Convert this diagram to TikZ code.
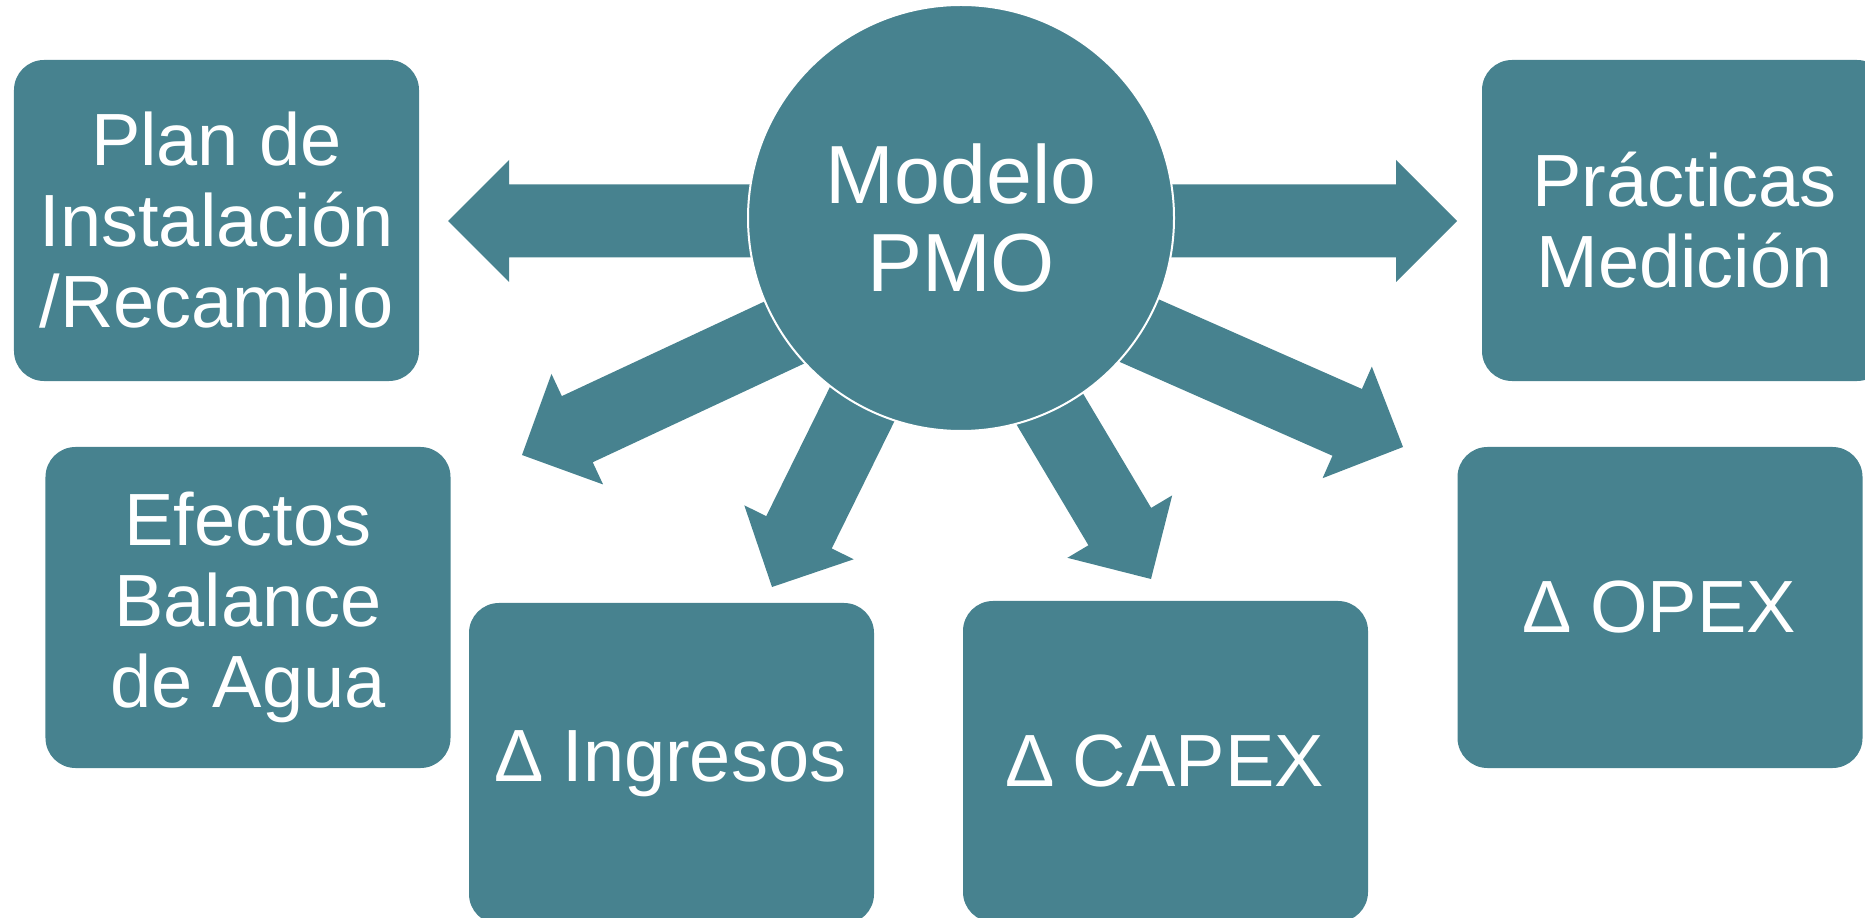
\documentclass[tikz,border=0pt]{standalone}
\usepackage{fontspec}
\setmainfont{Liberation Sans}
\usetikzlibrary{calc}
\definecolor{pmoteal}{RGB}{71,130,143}
% block arrow from tail #1 to tip #2 (named coordinates)
\newcommand{\pmoarrow}[2]{%
  \coordinate (#2-h) at ($(#2)!24.4pt!(#1)$);
  \fill[pmoteal] ($(#1)!14.6pt!90:(#2)$) -- ($(#2-h)!14.6pt!90:(#2)$)
    -- ($(#2-h)!24.4pt!90:(#2)$) -- (#2) -- ($(#2-h)!24.4pt!-90:(#2)$)
    -- ($(#2-h)!14.6pt!-90:(#2)$) -- ($(#1)!14.6pt!-90:(#2)$) -- cycle;}
\begin{document}
\begin{tikzpicture}[x=0.4pt,y=-0.4pt,
  card/.style={rectangle, rounded corners=12pt, fill=pmoteal, text=white,
    minimum width=162pt, minimum height=128.4pt, inner sep=0pt, align=center,
    font=\fontsize{29.6pt}{32.4pt}\selectfont},
  hub/.style={circle, fill=pmoteal, draw=white, line width=0.8pt,
    minimum size=170.4pt, inner sep=0pt, text=white, align=center,
    font=\fontsize{33pt}{35.2pt}\selectfont}]
\useasboundingbox (0,0) rectangle (1865,918);
% boxes
\node[card] (plan) at (216.5,220.5) {Plan de\\Instalación\\/Recambio};
\node[card] (prac) at (1684.5,220.5) {Prácticas\\Medición};
\node[card] (efec) at (248,607.5) {Efectos\\Balance\\de Agua};
\node[card] (opex) at (1660,607.5) {∆ OPEX};
\node[card] (ingr) at (671.5,763.5) {∆ Ingresos};
\node[card] (capx) at (1165.5,761.5) {∆ CAPEX};
% arrow end points
\coordinate (tL) at (880,221);   \coordinate (pL) at (448,221);
\coordinate (tR) at (1040,221);  \coordinate (pR) at (1457,221);
\coordinate (tB) at (961,250);   \coordinate (pB) at (522,455);
\coordinate (tC) at (954,218);   \coordinate (pC) at (772,587);
\coordinate (tD) at (936,218);   \coordinate (pD) at (1151,579);
\coordinate (tE) at (961,252);   \coordinate (pE) at (1403,447);
\pmoarrow{tL}{pL}
\pmoarrow{tR}{pR}
\pmoarrow{tB}{pB}
\pmoarrow{tC}{pC}
\pmoarrow{tD}{pD}
\pmoarrow{tE}{pE}
% hub
\node[hub] (pmo) at (961,218) {Modelo\\PMO};
\end{tikzpicture}
\end{document}
